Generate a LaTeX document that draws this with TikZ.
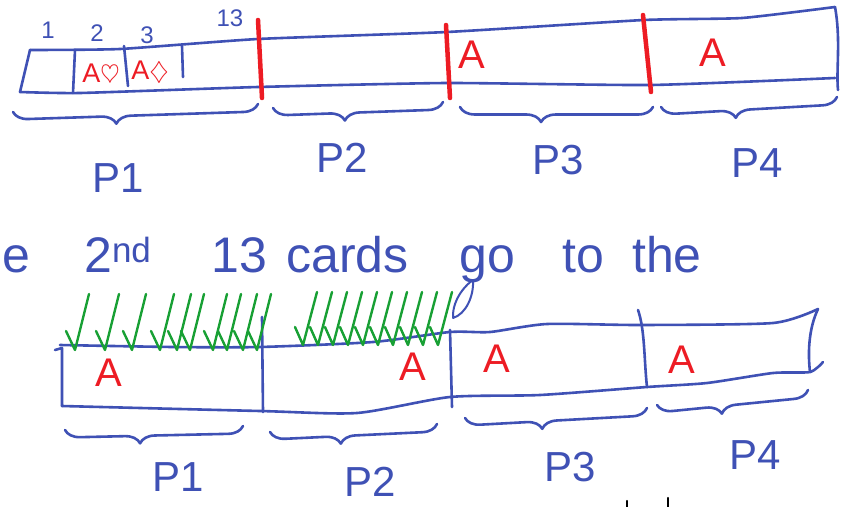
\documentclass[tikz,border=0pt]{standalone}
\usepackage{fontspec}
\setmainfont{Liberation Sans}
\usetikzlibrary{positioning,decorations.pathreplacing}

\definecolor{inkblue}{RGB}{63,81,181}
\definecolor{inkred}{RGB}{237,28,36}
\definecolor{inkgreen}{RGB}{24,160,52}

\tikzset{
	ink/.style={draw=inkblue, line width=2.6pt, line cap=round, line join=round},
	cut/.style={draw=inkred, line width=4.5pt, line cap=round},
	ace/.style={text=inkred, font=\fontsize{40}{40}\selectfont, inner sep=0pt},
	pile/.style={text=inkblue, font=\fontsize{42}{42}\selectfont, inner sep=0pt},
	slot/.style={text=inkblue, font=\fontsize{24}{24}\selectfont, inner sep=0pt},
	word/.style={text=inkblue, font=\fontsize{50}{50}\selectfont, inner sep=0pt, anchor=base west},
	pbrace/.style={ink, decorate, decoration={brace, mirror, amplitude=15pt, aspect=0.42}},
	deal/.style={draw=inkgreen, line width=2.4pt, line cap=round, line join=round}
}

\begin{document}
\begin{tikzpicture}[x=1pt,y=-1pt]
	\useasboundingbox (0,0) rectangle (843,506);
	\fill[white] (0,0) rectangle (843,506);
	\clip (0,0) rectangle (843,506);

	% first deal: the long strip of 52 cards
	\draw[ink] plot[smooth, tension=0.3] coordinates {(30,50) (120,49) (258,39) (447,32) (644,20) (742,18) (835,7)};
	\draw[ink] plot[smooth, tension=0.3] coordinates {(20,92) (80,93) (258,87) (447,83) (651,85) (835,78)};
	\draw[ink] (30,50) -- (20,92);
	\draw[ink] (835,7) .. controls (841,40) and (836,70) .. (838,90);
	% card slots
	\draw[ink] (75,50) -- (73,93);
	\draw[ink] (124,46) -- (128,86);
	\draw[ink] (182,46) -- (183,77);
	\node[slot] (s1) at (48,30) {1};
	\node[slot] (s2) at (97,33) {2};
	\node[slot] (s3) at (147,35) {3};
	\node[slot] (s13) at (230,18) {13};
	\node[ace, font=\fontsize{27}{27}\selectfont] (ah) at (101,75) {A$\heartsuit$};
	\node[ace, font=\fontsize{27}{27}\selectfont] (ad) at (150,72) {A$\diamondsuit$};

	% cuts every 13 cards
	\draw[cut] (258,20) -- (262,98);
	\draw[cut] (446,25) -- (450,98);
	\draw[cut] (643,15) -- (651,92);
	\node[ace] (a3top) at (472,55) {A};
	\node[ace] (a4top) at (713,53) {A};

	% piles
	\draw[pbrace] (13,112) -- (258,104);
	\draw[pbrace] (273,108) -- (443,102);
	\draw[pbrace] (460,107) -- (653,107);
	\draw[pbrace] (661,107) -- (837,97);
	\node[pile] (p1top) at (118,178) {P1};
	\node[pile] (p2top) at (342,158) {P2};
	\node[pile] (p3top) at (558,160) {P3};
	\node[pile] (p4top) at (757,163) {P4};

	% sentence
	\node[word] (w0) at (2,272) {e};
	\node[word] (w1) at (84,272) {2\textsuperscript{nd}};
	\node[word] (w2) at (211,272) {13};
	\node[word] (w3) at (286,272) {cards};
	\node[word] (w4) at (459,272) {go};
	\node[word] (w5) at (562,272) {to};
	\node[word] (w6) at (632,272) {the};
	\draw[ink, line width=2pt] (453,318) .. controls (452,298) and (468,283) .. (473,280) .. controls (474,296) and (466,314) .. (453,318);

	% second deal
	\draw[ink] plot[smooth, tension=0.4] coordinates {(60,345) (173,347) (260,347) (373,342) (450,332) (490,332) (547,324) (640,325) (773,323) (818,309)};
	\draw[ink] plot[smooth, tension=0.4] coordinates {(62,406) (260,411) (357,413) (450,397) (540,395) (647,387) (707,383) (773,373) (810,372) (823,362)};
	\draw[ink] (55,350) -- (62,348) -- (62,406);
	\draw[ink] (262,317) -- (263,412);
	\draw[ink] (450,330) -- (452,407);
	\draw[ink] (638,310) .. controls (645,330) and (644,360) .. (647,387);
	\draw[ink] (818,309) .. controls (808,330) and (808,355) .. (810,372);
	\node[ace] (a1) at (109,373) {A};
	\node[ace] (a2) at (413,367) {A};
	\node[ace] (a3) at (497,359) {A};
	\node[ace] (a4) at (682,360) {A};

	% cards landing on P1 and P2
	\foreach \x in {75,105,132,160,177,190,213,227,243,257}
		\draw[deal] (\x-9,331) -- (\x,350) -- (\x+14,294);
	\foreach \x in {303,318,333,348,363,378,393,408,423,438}
		\draw[deal] (\x-8,327) -- (\x,345) -- (\x+14,292);

	\draw[pbrace] (65,430) -- (243,426);
	\draw[pbrace] (270,432) -- (437,424);
	\draw[pbrace] (465,418) -- (647,408);
	\draw[pbrace] (657,405) -- (808,390);
	\node[pile] (p1) at (178,477) {P1};
	\node[pile] (p2) at (370,482) {P2};
	\node[pile] (p3) at (570,467) {P3};
	\node[pile] (p4) at (755,455) {P4};

	\draw[line width=2.5pt, line cap=round] (627,501) -- (627,508);
	\draw[line width=2.5pt, line cap=round] (668,498) -- (668,508);
\end{tikzpicture}
\end{document}
